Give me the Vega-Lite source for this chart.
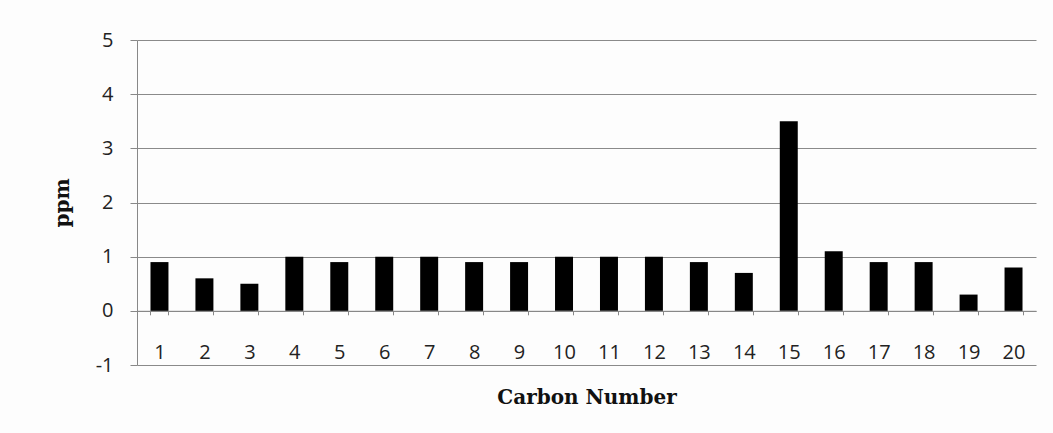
{
  "$schema": "https://vega.github.io/schema/vega-lite/v6.json",
  "width": 899,
  "height": 325,
  "autosize": {"type": "none"},
  "padding": {"left": 137, "top": 40, "right": 17, "bottom": 68},
  "background": "#fdfdfd",
  "data": {
    "values": [
      {"carbon": "1", "ppm": 0.9},
      {"carbon": "2", "ppm": 0.6},
      {"carbon": "3", "ppm": 0.5},
      {"carbon": "4", "ppm": 1.0},
      {"carbon": "5", "ppm": 0.9},
      {"carbon": "6", "ppm": 1.0},
      {"carbon": "7", "ppm": 1.0},
      {"carbon": "8", "ppm": 0.9},
      {"carbon": "9", "ppm": 0.9},
      {"carbon": "10", "ppm": 1.0},
      {"carbon": "11", "ppm": 1.0},
      {"carbon": "12", "ppm": 1.0},
      {"carbon": "13", "ppm": 0.9},
      {"carbon": "14", "ppm": 0.7},
      {"carbon": "15", "ppm": 3.5},
      {"carbon": "16", "ppm": 1.1},
      {"carbon": "17", "ppm": 0.9},
      {"carbon": "18", "ppm": 0.9},
      {"carbon": "19", "ppm": 0.3},
      {"carbon": "20", "ppm": 0.8}
    ]
  },
  "config": {
    "view": {"stroke": null},
    "axis": {
      "labelFont": "Open Sans",
      "labelFontSize": 20,
      "labelColor": "#222222",
      "titleFont": "DejaVu Serif",
      "titleFontSize": 20,
      "titleFontWeight": "bold",
      "titleColor": "#111111",
      "domainColor": "#888888",
      "tickColor": "#888888",
      "gridColor": "#8a8a8a",
      "gridOpacity": 1
    }
  },
  "mark": {"type": "bar", "color": "#000000"},
  "encoding": {
    "x": {
      "field": "carbon",
      "type": "ordinal",
      "sort": null,
      "scale": {"paddingInner": 0.6, "paddingOuter": 0.3},
      "axis": {
        "title": "Carbon Number",
        "labelAngle": 0,
        "offset": -54.2,
        "tickBand": "extent",
        "tickSize": 4,
        "labelBaseline": "top",
        "labelPadding": 28,
        "titlePadding": 25,
        "grid": false
      }
    },
    "y": {
      "field": "ppm",
      "type": "quantitative",
      "scale": {"domain": [-1, 5], "nice": false},
      "axis": {
        "title": "ppm",
        "values": [-1, 0, 1, 2, 3, 4, 5],
        "labelExpr": "datum.value < 0 ? '-' + abs(datum.value) : datum.label",
        "tickSize": 7,
        "labelPadding": 17,
        "titlePadding": 23,
        "grid": true
      }
    }
  }
}
